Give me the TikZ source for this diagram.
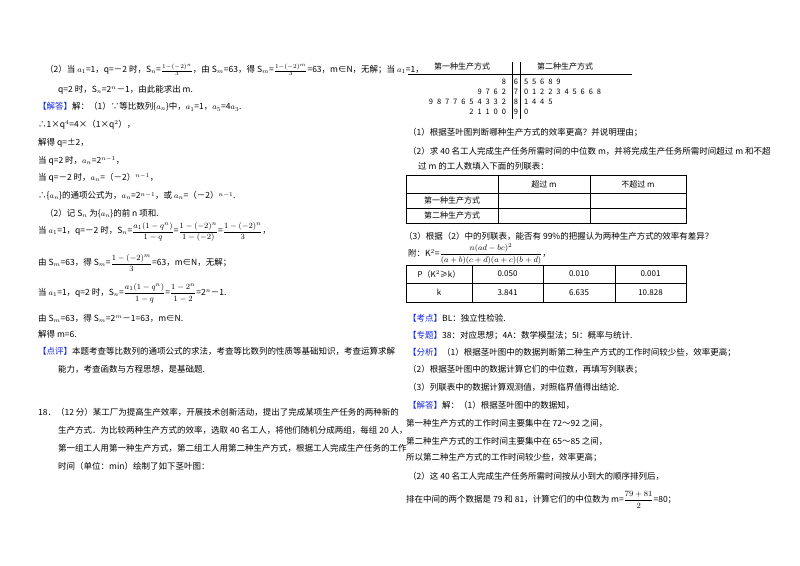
\documentclass[tikz,border=0pt]{standalone}
\usepackage{fontspec}
\setmainfont{Noto Sans CJK SC}
\usepackage{amsmath}
\definecolor{bl}{RGB}{20,40,220}
\newcommand\bl[1]{\textcolor{bl}{#1}}
\newcommand\fr[2]{{\displaystyle\frac{#1}{#2}}}
\begin{document}
\begin{tikzpicture}[x=1pt,y=-1pt,
  t/.style={anchor=west,inner sep=0,font=\fontsize{8.5}{10}\selectfont},
  dg/.style={inner sep=0,font=\fontsize{7.5}{9}\selectfont},
  cell/.style={inner sep=0,font=\fontsize{8}{10}\selectfont},
  grid/.style={draw=black,line width=0.6pt}]
\useasboundingbox[fill=white] (0,0) rectangle (800,565);
% left column
\node[t] (l1) at (45,70) {（2）当 $a_1$=1，q=－2 时，S$_n$=$\frac{1-(-2)^n}{3}$，由 S$_m$=63，得 S$_m$=$\frac{1-(-2)^m}{3}$=63，m∈N，无解；当 $a_1$=1，};
\node[t] (l2) at (58,90) {q=2 时，S$_n$=2$^n$－1，由此能求出 m.};
\node[t] (l3) at (38,107) {\bl{【解答】}解：（1）∵等比数列\{$a_n$\}中，$a_1$=1，$a_5$=4$a_3$.};
\node[t] (l4) at (38,125) {∴1×q$^4$=4×（1×q$^2$），};
\node[t] (l5) at (38,143) {解得 q=±2，};
\node[t] (l6) at (38,161) {当 q=2 时，$a_n$=2$^{n-1}$，};
\node[t] (l7) at (38,178) {当 q=－2 时，$a_n$=（－2）$^{n-1}$，};
\node[t] (l8) at (38,196) {∴\{$a_n$\}的通项公式为，$a_n$=2$^{n-1}$，或 $a_n$=（－2）$^{n-1}$.};
\node[t] (l9) at (45,214) {（2）记 S$_n$ 为\{$a_n$\}的前 n 项和.};
\node[t] (l10) at (38,232) {当 $a_1$=1，q=－2 时，S$_n$=$\fr{a_1(1-q^n)}{1-q}$=$\fr{1-(-2)^n}{1-(-2)}$=$\fr{1-(-2)^n}{3}$，};
\node[t] (l11) at (38,263) {由 S$_m$=63，得 S$_m$=$\fr{1-(-2)^m}{3}$=63，m∈N，无解；};
\node[t] (l12) at (38,293) {当 $a_1$=1，q=2 时，S$_n$=$\fr{a_1(1-q^n)}{1-q}$=$\fr{1-2^n}{1-2}$=2$^n$－1.};
\node[t] (l13) at (38,318) {由 S$_m$=63，得 S$_m$=2$^m$－1=63，m∈N.};
\node[t] (l14) at (38,334) {解得 m=6.};
\node[t] (l15) at (38,351) {\bl{【点评】}本题考查等比数列的通项公式的求法，考查等比数列的性质等基础知识，考查运算求解};
\node[t] (l16) at (58,369) {能力，考查函数与方程思想，是基础题.};
\node[t] (l17) at (38,412) {18．（12 分）某工厂为提高生产效率，开展技术创新活动，提出了完成某项生产任务的两种新的};
\node[t] (l18) at (58,430) {生产方式．为比较两种生产方式的效率，选取 40 名工人，将他们随机分成两组，每组 20 人，};
\node[t] (l19) at (58,448) {第一组工人用第一种生产方式，第二组工人用第二种生产方式，根据工人完成生产任务的工作};
\node[t] (l20) at (58,466) {时间（单位：min）绘制了如下茎叶图：};
% stem-leaf
\node[cell] (h1) at (462,66) {第一种生产方式};
\node[cell] (h2) at (565,66) {第二种生产方式};
\draw[grid] (408,74) -- (632,74);
\draw[grid] (512,62) -- (512,119);
\draw[grid] (520,62) -- (520,119);
\foreach \s [count=\i] in {6,7,8,9} \node[dg] (st\i) at (516,72+10*\i) {\s};
\foreach \row/\lst in {1/{8},2/{2,6,7,9},3/{2,3,3,4,5,6,7,7,8,9},4/{0,0,1,1,2}}
  \foreach \d [count=\k] in \lst \node[dg] (lf\row\k) at (508-8.1*\k+4,72+10*\row) {\d};
\foreach \row/\lst in {1/{5,5,6,8,9},2/{0,1,2,2,3,4,5,6,6,8},3/{1,4,4,5},4/{0}}
  \foreach \d [count=\k] in \lst \node[dg] (rf\row\k) at (518+8.1*\k,72+10*\row) {\d};
% right column
\node[t] (r1) at (408,133) {（1）根据茎叶图判断哪种生产方式的效率更高？并说明理由；};
\node[t] (r2) at (408,151) {（2）求 40 名工人完成生产任务所需时间的中位数 m，并将完成生产任务所需时间超过 m 和不超};
\node[t] (r3) at (418,166) {过 m 的工人数填入下面的列联表：};
\draw[grid] (406,175) rectangle (686,223);
\draw[grid] (406,193) -- (686,193) (406,208) -- (686,208) (498,175) -- (498,223) (590,175) -- (590,223);
\node[cell] (c1) at (544,184) {超过 m};
\node[cell] (c2) at (638,184) {不超过 m};
\node[cell] (c3) at (452,200.5) {第一种生产方式};
\node[cell] (c4) at (452,215.5) {第二种生产方式};
\node[t] (r4) at (404,236) {（3）根据（2）中的列联表，能否有 99\%的把握认为两种生产方式的效率有差异？};
\node[t] (r5) at (408,254) {附：K$^2$=$\fr{n(ad-bc)^2}{(a+b)(c+d)(a+c)(b+d)}$，};
\draw[grid] (406,265) rectangle (686,302);
\draw[grid] (406,283) -- (686,283) (472,265) -- (472,302) (543,265) -- (543,302) (615,265) -- (615,302);
\node[cell] (p0) at (439,274) {P（K$^2$≥k）};
\node[cell] (p1) at (507.5,274) {0.050};
\node[cell] (p2) at (579,274) {0.010};
\node[cell] (p3) at (650.5,274) {0.001};
\node[cell] (k0) at (439,292.5) {k};
\node[cell] (k1) at (507.5,292.5) {3.841};
\node[cell] (k2) at (579,292.5) {6.635};
\node[cell] (k3) at (650.5,292.5) {10.828};
\node[t] (r6) at (408,318) {\bl{【考点】}BL：独立性检验.};
\node[t] (r7) at (408,336) {\bl{【专题】}38：对应思想；4A：数学模型法；5I：概率与统计.};
\node[t] (r8) at (408,353) {\bl{【分析】}（1）根据茎叶图中的数据判断第二种生产方式的工作时间较少些，效率更高；};
\node[t] (r9) at (408,370) {（2）根据茎叶图中的数据计算它们的中位数，再填写列联表；};
\node[t] (r10) at (408,387) {（3）列联表中的数据计算观测值，对照临界值得出结论.};
\node[t] (r11) at (408,405) {\bl{【解答】}解：（1）根据茎叶图中的数据知，};
\node[t] (r12) at (406,423) {第一种生产方式的工作时间主要集中在 72～92 之间，};
\node[t] (r13) at (406,441) {第二种生产方式的工作时间主要集中在 65～85 之间，};
\node[t] (r14) at (406,458) {所以第二种生产方式的工作时间较少些，效率更高；};
\node[t] (r15) at (408,476) {（2）这 40 名工人完成生产任务所需时间按从小到大的顺序排列后，};
\node[t] (r16) at (406,500) {排在中间的两个数据是 79 和 81，计算它们的中位数为 m=$\fr{79+81}{2}$=80；};
\end{tikzpicture}
\end{document}
